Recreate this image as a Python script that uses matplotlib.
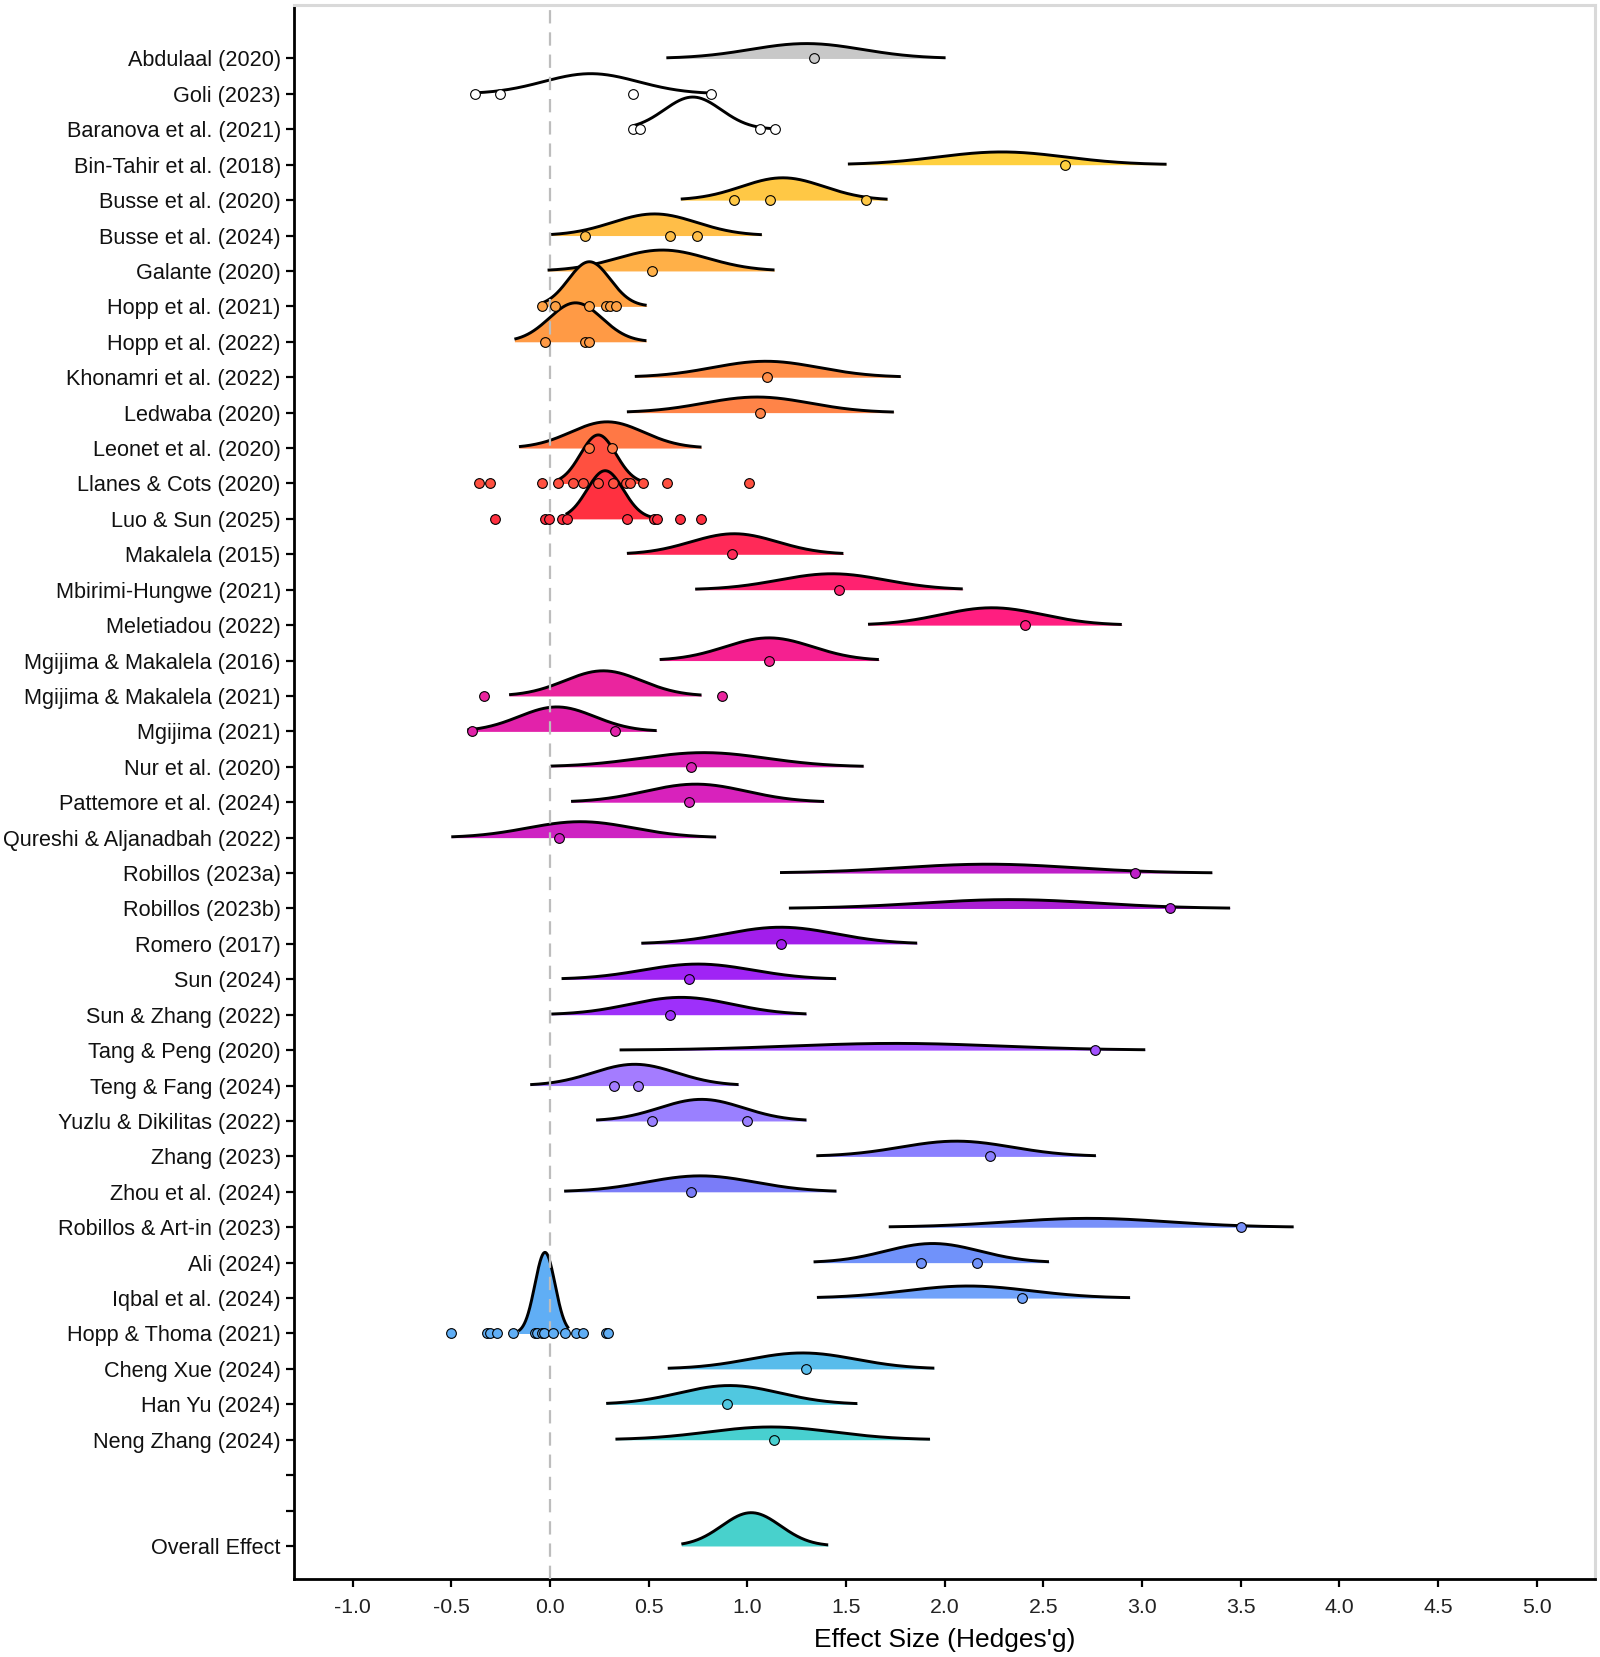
import numpy as np
import matplotlib
matplotlib.use("Agg")
import matplotlib.pyplot as plt

plt.rcParams["font.family"] = ["Liberation Sans", "DejaVu Sans"]

# Studies, top to bottom
studies = [
    "Abdulaal (2020)", "Goli (2023)", "Baranova et al. (2021)", "Bin-Tahir et al. (2018)",
    "Busse et al. (2020)", "Busse et al. (2024)", "Galante (2020)", "Hopp et al. (2021)",
    "Hopp et al. (2022)", "Khonamri et al. (2022)", "Ledwaba (2020)", "Leonet et al. (2020)",
    "Llanes & Cots (2020)", "Luo & Sun (2025)", "Makalela (2015)", "Mbirimi-Hungwe (2021)",
    "Meletiadou (2022)", "Mgijima & Makalela (2016)", "Mgijima & Makalela (2021)", "Mgijima (2021)",
    "Nur et al. (2020)", "Pattemore et al. (2024)", "Qureshi & Aljanadbah (2022)", "Robillos (2023a)",
    "Robillos (2023b)", "Romero (2017)", "Sun (2024)", "Sun & Zhang (2022)",
    "Tang & Peng (2020)", "Teng & Fang (2024)", "Yuzlu & Dikilitas (2022)", "Zhang (2023)",
    "Zhou et al. (2024)", "Robillos & Art-in (2023)", "Ali (2024)", "Iqbal et al. (2024)",
    "Hopp & Thoma (2021)", "Cheng Xue (2024)", "Han Yu (2024)", "Neng Zhang (2024)",
]

# ridge extent (lo, hi), peak location and peak height (in row units)
ridge_lo = [0.59, -0.381, 0.422, 1.51, 0.663, 0.006, -0.012, -0.04, -0.18, 0.43,
            0.39, -0.157, 0.03, 0.08, 0.39, 0.736, 1.612, 0.556, -0.207, -0.419,
            0.003, 0.107, -0.50, 1.166, 1.211, 0.463, 0.059, 0.007, 0.353, -0.10,
            0.234, 1.35, 0.072, 1.717, 1.336, 1.353, -0.16, 0.597, 0.285, 0.332]
ridge_hi = [2.005, 0.818, 1.143, 3.125, 1.711, 1.074, 1.138, 0.49, 0.489, 1.778,
            1.743, 0.768, 0.48, 0.54, 1.487, 2.092, 2.898, 1.667, 0.768, 0.541,
            1.59, 1.389, 0.842, 3.357, 3.447, 1.861, 1.45, 1.30, 3.017, 0.956,
            1.30, 2.767, 1.452, 3.769, 2.529, 2.94, 0.095, 1.948, 1.558, 1.926]
peak_x = [1.30, 0.207, 0.724, 2.29, 1.18, 0.53, 0.57, 0.20, 0.13, 1.094,
          1.05, 0.29, 0.245, 0.28, 0.934, 1.43, 2.24, 1.11, 0.27, 0.035,
          0.78, 0.74, 0.155, 2.22, 2.33, 1.17, 0.75, 0.665, 1.75, 0.43,
          0.768, 2.06, 0.763, 2.73, 1.94, 2.12, -0.025, 1.28, 0.91, 1.12]
peak_h = [0.42, 0.57, 0.91, 0.36, 0.63, 0.61, 0.59, 1.26, 1.10, 0.45,
          0.44, 0.74, 1.37, 1.36, 0.58, 0.45, 0.49, 0.64, 0.71, 0.69,
          0.40, 0.51, 0.45, 0.25, 0.25, 0.47, 0.43, 0.49, 0.19, 0.60,
          0.61, 0.43, 0.45, 0.25, 0.54, 0.34, 2.29, 0.45, 0.53, 0.36]
fills = ["#C8C8C8", "#FFFFFF", "#FFFFFF", "#FFD03F", "#FFC845", "#FFBE48", "#FFB048", "#FFA245",
         "#FF9A45", "#FF8E48", "#FF8448", "#FF7845", "#FF5040", "#FF3040", "#FF2A58", "#FF2270",
         "#FF1E80", "#F52090", "#EA259E", "#E222AA", "#DC22B4", "#D822BC", "#CE22C2", "#BE20C8",
         "#AA1ED2", "#A21EEB", "#A024F5", "#9E30FA", "#A352FF", "#A47CFF", "#9A80FF", "#8A80FF",
         "#7A7CF8", "#7890FA", "#7092FA", "#70A2FA", "#60AEF5", "#58BCEB", "#50C8E0", "#48D0D0"]

# individual effect sizes per study
effects = [
    [1.34],
    [-0.381, -0.253, 0.422, 0.818],
    [0.422, 0.454, 1.065, 1.143],
    [2.61],
    [0.931, 1.117, 1.60],
    [0.177, 0.611, 0.745],
    [0.518],
    [-0.041, 0.026, 0.198, 0.282, 0.305, 0.335],
    [-0.026, 0.18, 0.198],
    [1.10],
    [1.065],
    [0.198, 0.313],
    [-0.358, -0.304, -0.039, 0.042, 0.118, 0.166, 0.245, 0.318, 0.384, 0.406, 0.470, 0.593, 1.007],
    [-0.277, -0.025, -0.003, 0.059, 0.085, 0.389, 0.527, 0.544, 0.659, 0.765],
    [0.925],
    [1.466],
    [2.41],
    [1.111],
    [-0.335, 0.87],
    [-0.393, 0.329],
    [0.716],
    [0.703],
    [0.046],
    [2.965],
    [3.14],
    [1.172],
    [0.703],
    [0.609],
    [2.764],
    [0.324, 0.447],
    [0.515, 0.997],
    [2.23],
    [0.717],
    [3.503],
    [1.88, 2.162],
    [2.393],
    [-0.503, -0.321, -0.304, -0.270, -0.186, -0.076, -0.064, -0.042, -0.030, 0.017,
     0.076, 0.132, 0.169, 0.282, 0.296],
    [1.298],
    [0.896],
    [1.136],
]

# overall effect ridge
overall_lo, overall_hi, overall_peak_x, overall_peak_h = 0.666, 1.41, 1.02, 0.94
overall_fill = "#48D1CC"

x_ticks = [-1.0, -0.5, 0.0, 0.5, 1.0, 1.5, 2.0, 2.5, 3.0, 3.5, 4.0, 4.5, 5.0]

labels = studies + ["", "", "Overall Effect"]
n_rows = len(labels)
ypos = {lab_i: n_rows - 1 - lab_i for lab_i in range(n_rows)}

fig = plt.figure(figsize=(16, 16.57), dpi=100)
ax = fig.add_axes([0.18375, 0.0471, 0.8131, 0.9499])


def draw_ridge(base, lo, hi, mu, h, fill, z):
    sd = (hi - lo) / 5.0
    xs = np.linspace(lo, hi, 300)
    ys = base + h * np.exp(-0.5 * ((xs - mu) / sd) ** 2)
    ax.fill_between(xs, base, ys, color=fill, lw=0, zorder=z)
    ax.plot(xs, ys, color="black", lw=2.1, zorder=z + 0.1, solid_capstyle="butt")


for i in range(len(studies)):
    draw_ridge(ypos[i], ridge_lo[i], ridge_hi[i], peak_x[i], peak_h[i], fills[i], 2 + i * 0.2)

draw_ridge(ypos[n_rows - 1], overall_lo, overall_hi, overall_peak_x, overall_peak_h,
           overall_fill, 2 + len(studies) * 0.2)

ax.axvline(0, color="#BDBDBD", lw=1.6, ls=(0, (6, 4)), zorder=20)

for i, vals in enumerate(effects):
    ax.plot(vals, [ypos[i]] * len(vals), "o", ms=7.0, mfc=fills[i], mec="black",
            mew=0.8, ls="none", zorder=30)

ax.set_xlim(-1.297, 5.296)
ax.set_ylim(-0.931, n_rows - 1 + 1.51)
ax.set_yticks([ypos[i] for i in range(n_rows)])
ax.set_yticklabels(labels, fontsize=15.6, color="#111111")
ax.set_xticks(x_ticks)
ax.set_xticklabels([f"{t:.1f}" for t in x_ticks], fontsize=15.3, color="#222222")
ax.set_xlabel("Effect Size (Hedges'g)", fontsize=19, labelpad=7.5)

ax.tick_params(axis="y", length=5.5, width=1.6, color="black", pad=4)
ax.tick_params(axis="x", length=5.5, width=1.6, color="black", pad=8.5)

for side in ["left", "bottom"]:
    ax.spines[side].set_linewidth(2.0)
    ax.spines[side].set_color("black")
for side in ["top", "right"]:
    ax.spines[side].set_linewidth(2.2)
    ax.spines[side].set_color("#D9D9D9")

fig.savefig("out.png", dpi=100, facecolor="white")
